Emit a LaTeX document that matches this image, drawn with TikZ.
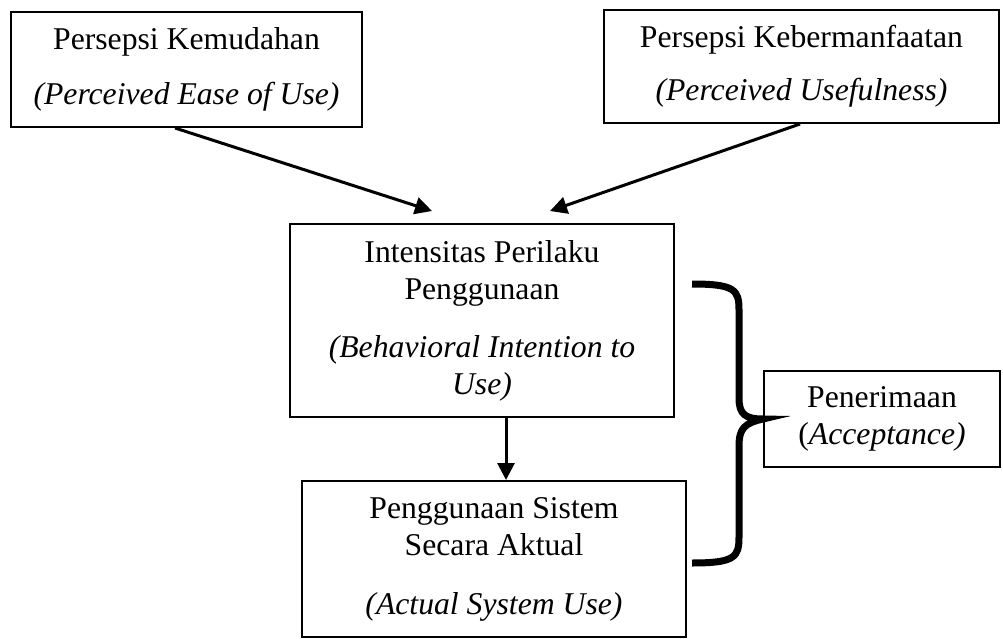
\documentclass[tikz,border=0pt]{standalone}
\usepackage{fontspec}
\setmainfont{Liberation Serif}
\usetikzlibrary{arrows.meta}
\tikzset{%
  box/.style = { draw, line width=2pt, align=center, inner sep=0pt, font=\fontsize{31.7}{37}\selectfont },
  conn/.style = { line width=3pt, -{Triangle[length=17pt,width=17pt]} },
  bracket/.style = { line width=7pt }
}
\begin{document}
\begin{tikzpicture}[x=1pt,y=-1pt]

  \useasboundingbox (0,0) rectangle (1003,639);

  % Persepsi
  \node[box,minimum width=351pt,minimum height=115pt] (pkm) at (186.5,69.5)
    {Persepsi Kemudahan\\[18pt]\textit{(Perceived Ease of Use)}};
  \node[box,minimum width=395pt,minimum height=113pt] (pkb) at (801.5,66.5)
    {Persepsi Kebermanfaatan\\[16pt]\textit{(Perceived Usefulness)}};

  % Intensitas dan penggunaan
  \node[box,minimum width=384pt,minimum height=193pt] (ipp) at (482,320.5)
    {Intensitas Perilaku\\Penggunaan\\[21pt]\textit{(Behavioral Intention to}\\\textit{Use)}};
  \node[box,minimum width=384pt,minimum height=156pt] (psa) at (494,559)
    {Penggunaan Sistem\\Secara Aktual\\[22pt]\textit{(Actual System Use)}};

  % Penerimaan
  \node[box,minimum width=236pt,minimum height=96pt] (pen) at (882,419)
    {Penerimaan\\(\textit{Acceptance)}};

  % Arrows
  \draw[conn] ([xshift=-11.5pt]pkm.south) -- ([xshift=-50pt,yshift=12pt]ipp.north);
  \draw[conn] ([xshift=-1.5pt]pkb.south) -- ([xshift=68pt,yshift=12pt]ipp.north);
  \draw[conn] ([xshift=24pt]ipp.south) -- ([xshift=24pt]ipp.south |- psa.north);

  % Brace
  \coordinate (btop) at (692,284);
  \coordinate (bbot) at (692,563);
  \draw[bracket] (btop) .. controls (735,284) and (739,290) .. (739,310)
    -- (739,398) .. controls (739,414) and (745,419) .. (pen.west)
    .. controls (745,423) and (739,428) .. (739,446)
    -- (739,537) .. controls (739,557) and (735,563) .. (bbot);

\end{tikzpicture}
\end{document}
